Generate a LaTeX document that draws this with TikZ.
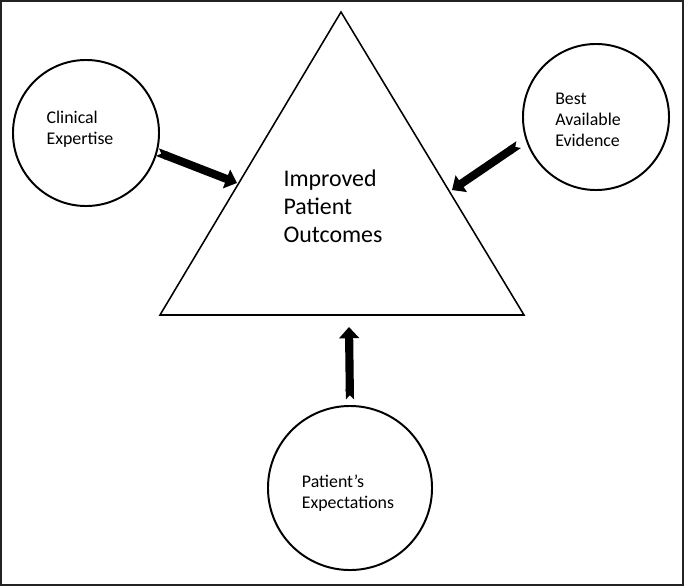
\documentclass[tikz,border=0pt]{standalone}
\usepackage{fontspec}
\setmainfont{Carlito}
\usetikzlibrary{arrows.meta, calc}
\definecolor{framegray}{RGB}{35,35,35}

\begin{document}
\begin{tikzpicture}[x=0.025cm, y=-0.025cm,
  factor/.style={draw, circle, line width=1.4pt, inner sep=0pt},
  factortext/.style={align=left, inner sep=0pt, font=\fontsize{12.7}{15}\selectfont},
  bigarrow/.style={line width=5.8pt, {Triangle Cap[reversed]}-{Triangle[length=8pt, width=14pt]}}]
\useasboundingbox (0,0) rectangle (684,586);
% Outer frame
\draw[framegray, line width=1.6pt] (1,1) rectangle (683,585);

% Triangle with the outcome
\coordinate (apex) at (341,12);
\coordinate (baseL) at (160,315);
\coordinate (baseR) at (524,315);
\draw[line width=1.1pt, line join=miter] (apex) -- (baseL) -- (baseR) -- cycle;
\node[align=left, font=\fontsize{17}{20}\selectfont] (outcome) at (333,206) {Improved\\Patient\\Outcomes};

% The three circles
\node[factor, minimum size=3.65cm] (clinical) at (86,133) {};
\node[factor, minimum size=3.65cm] (evidence) at (596,117) {};
\node[factor, minimum size=4.1cm] (expect) at (350,488) {};
\node[factortext] (clinicalTxt) at (80,129) {Clinical\\Expertise};
\node[factortext] (evidenceTxt) at (588,120) {Best\\Available\\Evidence};
\node[factortext] (expectTxt) at (348,493) {Patient's\\Expectations};

% Arrow ends on the triangle
\coordinate (inL) at (237,183);
\coordinate (inR) at (452,190);
\coordinate (inB) at (349,327);

% Arrows
\draw[bigarrow] (clinical.-15) -- (inL);
\draw[bigarrow, shorten <=6pt] (evidence.-162) -- (inR);
\draw[bigarrow, shorten <=4pt] (expect.north) -- (inB);
\end{tikzpicture}
\end{document}
